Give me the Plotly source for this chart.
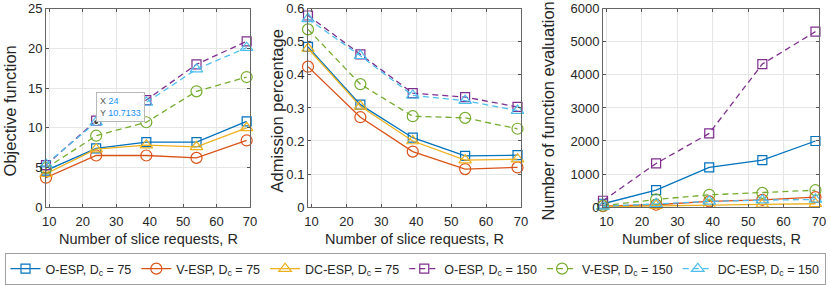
import plotly.graph_objects as go

# ---------------- data ----------------
R = [9, 24, 39, 54, 69]
x_ticks = [10, 20, 30, 40, 50, 60, 70]

series_names = ["O-ESP, D<sub>c</sub> = 75", "V-ESP, D<sub>c</sub> = 75", "DC-ESP, D<sub>c</sub> = 75",
                "O-ESP, D<sub>c</sub> = 150", "V-ESP, D<sub>c</sub> = 150", "DC-ESP, D<sub>c</sub> = 150"]

obj_o75 = [4.6, 7.4, 8.2, 8.2, 10.8]
obj_v75 = [3.7, 6.5, 6.5, 6.2, 8.4]
obj_dc75 = [4.2, 7.3, 7.8, 7.6, 10.0]
obj_o150 = [5.3, 10.9, 13.5, 18.0, 20.9]
obj_v150 = [4.9, 9.0, 10.7, 14.6, 16.4]
obj_dc150 = [5.4, 10.7133, 13.2, 17.4, 20.1]

adm_o75 = [0.485, 0.31, 0.21, 0.155, 0.157]
adm_v75 = [0.425, 0.272, 0.168, 0.115, 0.12]
adm_dc75 = [0.48, 0.305, 0.2, 0.142, 0.145]
adm_o150 = [0.58, 0.462, 0.345, 0.333, 0.303]
adm_v150 = [0.538, 0.372, 0.275, 0.27, 0.237]
adm_dc150 = [0.57, 0.458, 0.338, 0.322, 0.292]

nfe_o75 = [100, 510, 1200, 1420, 2000]
nfe_v75 = [30, 70, 170, 220, 300]
nfe_dc75 = [10, 40, 70, 80, 100]
nfe_o150 = [190, 1320, 2230, 4330, 5310]
nfe_v150 = [40, 230, 370, 430, 510]
nfe_dc150 = [20, 100, 170, 210, 230]

obj_yticks = [0, 5, 10, 15, 20, 25]
adm_yticks = [0, 0.1, 0.2, 0.3, 0.4, 0.5, 0.6]
nfe_yticks = [0, 1000, 2000, 3000, 4000, 5000, 6000]

y_titles = ["Objective function", "Admission percentage", "Number of function evaluation"]
x_title = "Number of slice requests, R"

# ---------------- styles ----------------
colors = ["#0072BD", "#D95319", "#EDB120", "#7E2F8E", "#77AC30", "#4DBEEE"]
symbols = ["square-open", "circle-open", "triangle-up-open"] * 2
msizes = [9, 11, 11] * 2
dashes = ["solid"] * 3 + ["6px,4px"] * 3

W, H = 830, 285
FONT = "Liberation Sans, Arial, Helvetica, sans-serif"
TXT = "#262626"

panels = [
    [obj_o75, obj_v75, obj_dc75, obj_o150, obj_v150, obj_dc150],
    [adm_o75, adm_v75, adm_dc75, adm_o150, adm_v150, adm_dc150],
    [nfe_o75, nfe_v75, nfe_dc75, nfe_o150, nfe_v150, nfe_dc150],
]
yticks = [obj_yticks, adm_yticks, nfe_yticks]
yranges = [[0, 25], [0, 0.6], [0, 6000]]
x_px = [(46, 250), (308, 521), (603, 819)]
y_px = (9, 210)
ytitle_x = [10, 277, 548]

fig = go.Figure()
for p, data in enumerate(panels):
    xa = "x" if p == 0 else f"x{p+1}"
    ya = "y" if p == 0 else f"y{p+1}"
    for i, vals in enumerate(data):
        fig.add_trace(go.Scatter(
            x=R, y=vals, xaxis=xa, yaxis=ya, name=series_names[i],
            mode="lines+markers", showlegend=(p == 0), cliponaxis=False,
            line=dict(color=colors[i], width=1.3, dash=dashes[i]),
            marker=dict(symbol=symbols[i], size=msizes[i], color=colors[i],
                        line=dict(color=colors[i], width=1.2)),
        ))

# datatip point
fig.add_trace(go.Scatter(x=[R[1]], y=[obj_dc150[1]], xaxis="x", yaxis="y", mode="markers",
                         showlegend=False, cliponaxis=False,
                         marker=dict(size=5, color="#404040", line=dict(color="white", width=1))))

layout = dict(
    width=W, height=H, margin=dict(l=0, r=0, t=0, b=0),
    paper_bgcolor="white", plot_bgcolor="white",
    font=dict(family=FONT, color=TXT, size=13),
    legend=dict(orientation="h", x=0.5, xanchor="center", y=1 - 257 / H, yanchor="top",
                bordercolor="#a0a0a0", borderwidth=1, bgcolor="white",
                font=dict(size=12.5, color=TXT, family=FONT), itemwidth=30),
    annotations=[],
)

for p in range(3):
    xk = "xaxis" if p == 0 else f"xaxis{p+1}"
    yk = "yaxis" if p == 0 else f"yaxis{p+1}"
    xa = "x" if p == 0 else f"x{p+1}"
    ya = "y" if p == 0 else f"y{p+1}"
    x0, x1 = x_px[p]
    layout[xk] = dict(domain=[x0 / W, x1 / W], range=[9, 70], anchor=ya,
                      tickvals=x_ticks, ticks="inside", ticklen=3, tickcolor="#555",
                      ticklabelstandoff=2,
                      showgrid=True, gridcolor="#e6e6e6", gridwidth=1,
                      showline=True, linecolor="#666", linewidth=1, mirror="ticks",
                      zeroline=False, tickfont=dict(size=13, color=TXT), automargin=False)
    layout[yk] = dict(domain=[1 - y_px[1] / H, 1 - y_px[0] / H], range=yranges[p], anchor=xa,
                      tickvals=yticks[p], ticks="inside", ticklen=3, tickcolor="#555",
                      showgrid=True, gridcolor="#e6e6e6", gridwidth=1,
                      showline=True, linecolor="#666", linewidth=1, mirror="ticks",
                      zeroline=False, tickfont=dict(size=13, color=TXT), automargin=False)
    layout["annotations"].append(dict(
        text=y_titles[p], xref="paper", yref="paper", x=ytitle_x[p] / W, y=1 - 113 / H,
        xanchor="center", yanchor="middle", textangle=-90, showarrow=False,
        font=dict(size=16.5, color=TXT, family=FONT)))
    layout["annotations"].append(dict(
        text=x_title, xref="paper", yref="paper", x=(x0 + x1) / 2 / W, y=1 - 242 / H,
        xanchor="center", yanchor="middle", showarrow=False,
        font=dict(size=14.5, color=TXT, family=FONT)))

# datatip box
layout["annotations"].append(dict(
    text=(f"X <span style='color:#1890ef'>{R[1]}</span><br>"
          f"Y <span style='color:#1890ef'>{obj_dc150[1]}</span>"),
    x=R[1], y=obj_dc150[1], xref="x", yref="y", xanchor="left", yanchor="bottom",
    showarrow=False, align="left", bgcolor="rgba(255,255,255,0.93)",
    bordercolor="#b8b8b8", borderwidth=1, borderpad=3,
    font=dict(size=9, color="#555", family=FONT)))

fig.update_layout(**layout)
fig.write_html("out.html", config={"displayModeBar": False},
               post_script="document.body.style.margin='0';document.body.style.padding='0';")
